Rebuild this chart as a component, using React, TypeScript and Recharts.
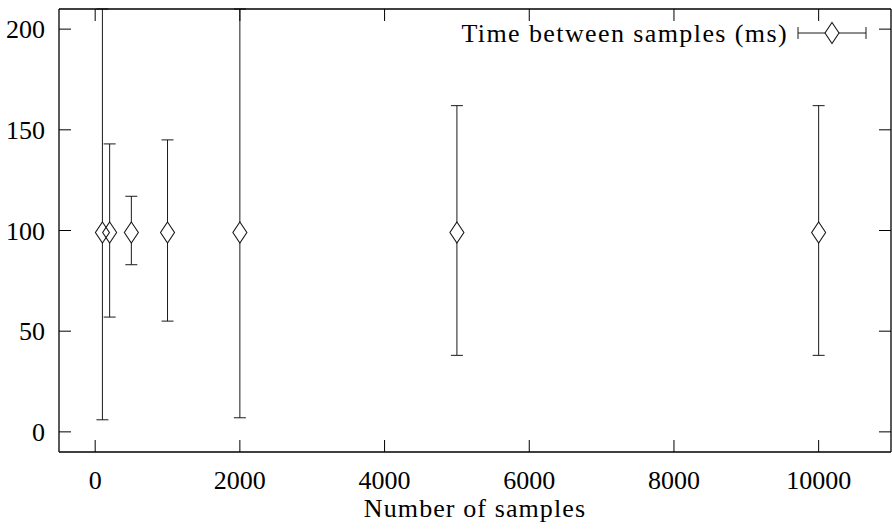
import React from 'react';
import { ScatterChart, Scatter, XAxis, YAxis, ErrorBar, Legend } from 'recharts';

// values
const samples = [100, 200, 500, 1000, 2000, 5000, 10000];
const meanMs = [99, 99, 99, 99, 99, 99, 99];
const lowMs = [6, 57, 83, 55, 7, 38, 38];
const highMs = [210, 143, 117, 145, 210, 162, 162];
const xTicks = [0, 2000, 4000, 6000, 8000, 10000];
const yTicks = [0, 50, 100, 150, 200];
const SERIES_NAME = 'Time between samples (ms)';
const X_LABEL = 'Number of samples';

const FONT = '"Liberation Serif", "Times New Roman", serif';
const INK = '#1a1a1a';
const TICK = 12;

const data = samples.map((n, i) => ({
  n,
  t: meanMs[i],
  err: [meanMs[i] - lowMs[i], highMs[i] - meanMs[i]],
}));

const diamondPath = (cx: number, cy: number) =>
  `M${cx},${cy - 10.5}L${cx + 7},${cy}L${cx},${cy + 10.5}L${cx - 7},${cy}Z`;

const WhiteDiamond = (p: any) => <path d={diamondPath(p.cx, p.cy)} fill="#fff" stroke="none" />;
const OpenDiamond = (p: any) => (
  <path d={diamondPath(p.cx, p.cy)} fill="none" stroke={INK} strokeWidth={1.1} />
);

const BottomTick = (p: any) => (
  <g>
    <line x1={p.x} y1={p.y} x2={p.x} y2={p.y - TICK} stroke="#000" strokeWidth={1} />
    <text x={p.x} y={p.y + 37} textAnchor="middle" fontFamily={FONT} fontSize={26} fill="#000">
      {p.payload.value}
    </text>
  </g>
);

const TopTick = (p: any) => (
  <line x1={p.x} y1={p.y} x2={p.x} y2={p.y + TICK} stroke="#000" strokeWidth={1} />
);

const LeftTick = (p: any) => (
  <g>
    <line x1={p.x} y1={p.y} x2={p.x + TICK} y2={p.y} stroke="#000" strokeWidth={1} />
    <text x={p.x - 14} y={p.y + 9} textAnchor="end" fontFamily={FONT} fontSize={26} fill="#000">
      {p.payload.value}
    </text>
  </g>
);

const RightTick = (p: any) => (
  <line x1={p.x} y1={p.y} x2={p.x - TICK} y2={p.y} stroke="#000" strokeWidth={1} />
);

const LegendBox = () => (
  <svg width={892} height={60} style={{ display: 'block' }}>
    <text x={788} y={42} textAnchor="end" fontFamily={FONT} fontSize={26} letterSpacing={1.4} fill="#000">
      {SERIES_NAME}
    </text>
    <line x1={798} y1={33} x2={866} y2={33} stroke={INK} strokeWidth={1} />
    <line x1={798} y1={27} x2={798} y2={39} stroke={INK} strokeWidth={1} />
    <line x1={866} y1={27} x2={866} y2={39} stroke={INK} strokeWidth={1} />
    <path d={diamondPath(832, 33)} fill="#fff" stroke={INK} strokeWidth={1.1} />
  </svg>
);

export default function App() {
  return (
    <div style={{ position: 'absolute', left: 0, top: 0, background: '#fff' }}>
      <ScatterChart width={892} height={529} data={data} margin={{ top: 8, right: 0, bottom: 0, left: 0 }}>
        <XAxis
          xAxisId="b"
          type="number"
          dataKey="n"
          domain={[-500, 11000]}
          allowDataOverflow
          ticks={xTicks}
          interval={0}
          height={77}
          tickSize={0}
          tickMargin={0}
          tick={BottomTick}
          axisLine={{ stroke: '#000', strokeWidth: 1.3 }}
          label={{
            value: X_LABEL,
            position: 'insideBottom',
            offset: 12,
            fontFamily: FONT,
            fontSize: 26,
            letterSpacing: 1.1,
            fill: '#000',
          }}
        />
        <XAxis
          xAxisId="t"
          orientation="top"
          type="number"
          dataKey="n"
          domain={[-500, 11000]}
          allowDataOverflow
          ticks={xTicks}
          interval={0}
          height={1}
          tickSize={0}
          tickMargin={0}
          tick={TopTick}
          axisLine={{ stroke: '#000', strokeWidth: 1.3 }}
        />
        <YAxis
          yAxisId="l"
          type="number"
          dataKey="t"
          domain={[-10, 210]}
          allowDataOverflow
          ticks={yTicks}
          interval={0}
          width={59}
          tickSize={0}
          tickMargin={0}
          tick={LeftTick}
          axisLine={{ stroke: '#000', strokeWidth: 1.3 }}
        />
        <YAxis
          yAxisId="r"
          orientation="right"
          type="number"
          dataKey="t"
          domain={[-10, 210]}
          allowDataOverflow
          ticks={yTicks}
          interval={0}
          width={1}
          tickSize={0}
          tickMargin={0}
          tick={RightTick}
          axisLine={{ stroke: '#000', strokeWidth: 1.3 }}
        />
        <Legend
          layout="horizontal"
          verticalAlign="middle"
          wrapperStyle={{ top: 0, left: 0, width: 892, height: 60, pointerEvents: 'none' }}
          content={() => <LegendBox />}
        />
        <Scatter
          name={SERIES_NAME}
          xAxisId="b"
          yAxisId="l"
          dataKey="t"
          shape={WhiteDiamond}
          isAnimationActive={false}
        >
          <ErrorBar dataKey="err" direction="y" width={6} stroke={INK} strokeWidth={1} />
        </Scatter>
        <Scatter
          name={SERIES_NAME}
          xAxisId="t"
          yAxisId="r"
          dataKey="t"
          shape={OpenDiamond}
          legendType="none"
          isAnimationActive={false}
        />
      </ScatterChart>
    </div>
  );
}
